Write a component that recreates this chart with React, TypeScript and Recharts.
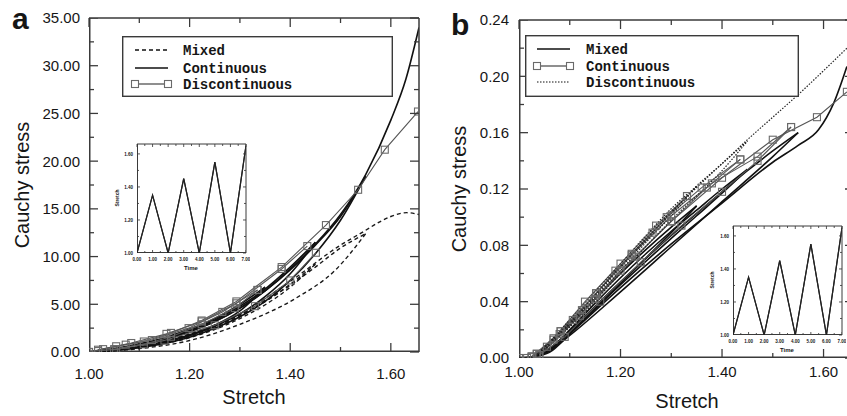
import { LineChart, Line, XAxis, YAxis } from 'recharts';

const FONT = '"Liberation Sans", Arial, sans-serif';
const MONO = '"Liberation Mono", "Courier New", monospace';
const INK = '#161616';
const FRAME = '#3a3a3a';
const SQ = '#6a6a6a';

// ---------- panel a: stretch / cauchy stress ----------
const aStretchTicks = [1.0, 1.1, 1.2, 1.3, 1.4, 1.5, 1.6];
const aStretchMajor = [1.0, 1.2, 1.4, 1.6];
const aStressTicks = [0, 2.5, 5, 7.5, 10, 12.5, 15, 17.5, 20, 22.5, 25, 27.5, 30, 32.5, 35];
const aStressMajor = [0, 5, 10, 15, 20, 25, 30, 35];

// mixed (dashed), one row per loading / unloading branch
const aMixedStretch = [
  [1.0, 1.1, 1.2, 1.3, 1.35],
  [1.0, 1.1, 1.2, 1.3, 1.35],
  [1.0, 1.1, 1.2, 1.3, 1.35, 1.4, 1.45],
  [1.0, 1.1, 1.2, 1.3, 1.4, 1.45],
  [1.0, 1.1, 1.2, 1.3, 1.4, 1.45, 1.5, 1.55],
  [1.0, 1.1, 1.2, 1.3, 1.41, 1.49, 1.55],
  [1.0, 1.1, 1.2, 1.3, 1.4, 1.5, 1.545, 1.58, 1.6, 1.632, 1.656],
];
const aMixedStress = [
  [0, 0.7, 1.9, 4.0, 5.4],
  [0, 0.5, 1.6, 3.7, 5.4],
  [0, 0.65, 1.8, 3.9, 5.3, 7.1, 9.2],
  [0, 0.45, 1.5, 3.5, 6.8, 9.2],
  [0, 0.6, 1.75, 3.8, 7.0, 8.9, 10.9, 12.4],
  [0, 0.35, 1.2, 2.9, 5.6, 8.6, 12.4],
  [0, 0.6, 1.8, 4.0, 7.4, 11.2, 12.6, 13.7, 14.2, 14.6, 14.4],
];

// continuous (solid)
const aContStretch = [
  [1.0, 1.05, 1.1, 1.15, 1.2, 1.25, 1.3, 1.35],
  [1.0, 1.05, 1.1, 1.15, 1.2, 1.25, 1.3, 1.35],
  [1.0, 1.05, 1.1, 1.15, 1.2, 1.25, 1.3, 1.35, 1.4, 1.45],
  [1.0, 1.05, 1.1, 1.15, 1.2, 1.25, 1.3, 1.35, 1.4, 1.45],
  [1.0, 1.05, 1.1, 1.15, 1.2, 1.25, 1.3, 1.35, 1.4, 1.45, 1.5, 1.55],
  [1.0, 1.05, 1.1, 1.15, 1.2, 1.25, 1.3, 1.35, 1.4, 1.45, 1.5, 1.55],
  [1.0, 1.05, 1.1, 1.15, 1.2, 1.25, 1.3, 1.35, 1.4, 1.45, 1.5, 1.55, 1.6, 1.63, 1.656],
];
const aContStress = [
  [0, 0.35, 0.85, 1.5, 2.4, 3.5, 5.0, 6.8],
  [0, 0.2, 0.55, 1.1, 1.8, 2.8, 4.3, 6.8],
  [0, 0.3, 0.78, 1.4, 2.25, 3.35, 4.8, 6.6, 8.9, 11.5],
  [0, 0.17, 0.5, 1.0, 1.7, 2.7, 4.0, 5.8, 8.2, 11.5],
  [0, 0.28, 0.74, 1.35, 2.15, 3.2, 4.6, 6.4, 8.6, 11.2, 14.2, 18.4],
  [0, 0.15, 0.45, 0.9, 1.55, 2.5, 3.7, 5.3, 7.5, 10.3, 13.8, 18.4],
  [0, 0.28, 0.74, 1.35, 2.15, 3.2, 4.6, 6.4, 8.7, 11.3, 14.4, 18.6, 24.3, 28.6, 34.0],
];

// discontinuous (line with square markers)
const aDiscStretch = [
  [1.0, 1.028, 1.073, 1.125, 1.198, 1.265, 1.335],
  [1.018, 1.054, 1.109, 1.163, 1.224, 1.29, 1.335],
  [1.018, 1.084, 1.154, 1.224, 1.293, 1.383, 1.434],
  [1.0, 1.05, 1.15, 1.25, 1.33, 1.4, 1.451],
  [1.0, 1.054, 1.109, 1.163, 1.224, 1.293, 1.383, 1.471, 1.535, 1.588, 1.654],
];
const aDiscStress = [
  [0, 0.3, 0.77, 1.25, 2.5, 4.2, 6.5],
  [0.1, 0.3, 0.8, 1.6, 2.9, 4.6, 6.5],
  [0.24, 0.94, 1.9, 3.2, 5.1, 8.7, 11.1],
  [0, 0.3, 1.2, 2.8, 4.8, 7.5, 10.4],
  [0, 0.6, 1.1, 2.0, 3.3, 5.3, 8.9, 13.3, 17.0, 21.2, 25.2],
];

// ---------- panel b ----------
const bStretchTicks = [1.0, 1.1, 1.2, 1.3, 1.4, 1.5, 1.6];
const bStretchMajor = [1.0, 1.2, 1.4, 1.6];
const bStressTicks = [0, 0.02, 0.04, 0.06, 0.08, 0.1, 0.12, 0.14, 0.16, 0.18, 0.2, 0.22, 0.24];
const bStressMajor = [0, 0.04, 0.08, 0.12, 0.16, 0.2, 0.24];

// mixed (solid)
const bMixedStretch = [
  [1.0, 1.03, 1.05, 1.1, 1.15, 1.2, 1.25, 1.3, 1.35],
  [1.03, 1.06, 1.1, 1.15, 1.2, 1.25, 1.3, 1.35],
  [1.03, 1.06, 1.1, 1.15, 1.2, 1.25, 1.3, 1.35, 1.4, 1.45],
  [1.03, 1.06, 1.1, 1.2, 1.3, 1.35, 1.4, 1.45],
  [1.03, 1.06, 1.1, 1.2, 1.3, 1.4, 1.45, 1.5, 1.55],
  [1.03, 1.06, 1.1, 1.2, 1.3, 1.4, 1.5, 1.55],
  [1.03, 1.06, 1.1, 1.2, 1.3, 1.4, 1.5, 1.55, 1.59, 1.62, 1.646],
];
const bMixedStress = [
  [0, 0.001, 0.006, 0.023, 0.042, 0.06, 0.077, 0.093, 0.108],
  [0.001, 0.007, 0.019, 0.036, 0.053, 0.071, 0.089, 0.108],
  [0.001, 0.006, 0.02, 0.039, 0.057, 0.074, 0.09, 0.105, 0.12, 0.134],
  [0.001, 0.006, 0.018, 0.052, 0.085, 0.101, 0.117, 0.134],
  [0.001, 0.005, 0.019, 0.054, 0.087, 0.118, 0.133, 0.147, 0.16],
  [0.001, 0.005, 0.016, 0.047, 0.079, 0.111, 0.143, 0.16],
  [0.001, 0.004, 0.017, 0.05, 0.081, 0.11, 0.139, 0.151, 0.162, 0.181, 0.207],
];

// continuous (line with square markers)
const bContStretch = [
  [1.0, 1.016, 1.025, 1.055, 1.082, 1.124, 1.19, 1.263, 1.331],
  [1.025, 1.068, 1.13, 1.2, 1.27, 1.331],
  [1.025, 1.068, 1.106, 1.152, 1.222, 1.291, 1.36, 1.436],
  [1.035, 1.08, 1.15, 1.23, 1.3, 1.37, 1.436],
  [1.035, 1.082, 1.152, 1.222, 1.3, 1.38, 1.47, 1.536],
  [1.04, 1.09, 1.16, 1.24, 1.32, 1.4, 1.47, 1.536],
  [1.04, 1.12, 1.2, 1.3, 1.4, 1.5, 1.587, 1.646],
];
const bContStress = [
  [0, 0, 0.001, 0.008, 0.019, 0.034, 0.062, 0.089, 0.115],
  [0.001, 0.014, 0.04, 0.067, 0.094, 0.115],
  [0.001, 0.013, 0.027, 0.046, 0.074, 0.1, 0.121, 0.141],
  [0.003, 0.017, 0.042, 0.072, 0.097, 0.121, 0.141],
  [0.003, 0.019, 0.046, 0.073, 0.101, 0.124, 0.143, 0.164],
  [0.002, 0.015, 0.04, 0.068, 0.094, 0.118, 0.14, 0.164],
  [0.002, 0.03, 0.062, 0.097, 0.128, 0.155, 0.171, 0.189],
];

// discontinuous (dotted)
const bDiscStretch = [
  [1.0, 1.03, 1.05, 1.1, 1.15, 1.2, 1.25, 1.3, 1.35],
  [1.03, 1.05, 1.1, 1.15, 1.2, 1.25, 1.3, 1.35],
  [1.03, 1.1, 1.2, 1.3, 1.35, 1.4, 1.45],
  [1.03, 1.05, 1.1, 1.2, 1.3, 1.4, 1.45],
  [1.03, 1.1, 1.2, 1.3, 1.35, 1.4, 1.45, 1.5, 1.55, 1.6, 1.646],
];
const bDiscStress = [
  [0, 0.001, 0.008, 0.027, 0.047, 0.067, 0.087, 0.106, 0.122],
  [0.001, 0.006, 0.024, 0.043, 0.062, 0.082, 0.101, 0.122],
  [0.001, 0.025, 0.065, 0.104, 0.121, 0.138, 0.154],
  [0.001, 0.006, 0.022, 0.06, 0.098, 0.133, 0.154],
  [0.001, 0.024, 0.064, 0.103, 0.122, 0.138, 0.155, 0.171, 0.187, 0.204, 0.22],
];

// ---------- insets: prescribed stretch history ----------
const insetTime = [0, 1, 2, 3, 4, 5, 6, 7];
const insetStretch = [1.0, 1.35, 1.0, 1.45, 1.0, 1.55, 1.0, 1.65];
const insetTimeTicks = [0, 0.5, 1, 1.5, 2, 2.5, 3, 3.5, 4, 4.5, 5, 5.5, 6, 6.5, 7];
const insetTimeMajor = [0, 1, 2, 3, 4, 5, 6, 7];
const insetStretchTicks = [1.0, 1.1, 1.2, 1.3, 1.4, 1.5, 1.6];
const insetStretchMajor = [1.0, 1.2, 1.4, 1.6];

const legendNamesA = ['Mixed', 'Continuous', 'Discontinuous'];
const legendNamesB = ['Mixed', 'Continuous', 'Discontinuous'];

type Pt = { s: number; v: number };
const zip = (xs: number[][], ys: number[][]): Pt[][] =>
  xs.map((row, i) => row.map((s, j) => ({ s, v: ys[i][j] })));

interface Group {
  branches: Pt[][];
  stroke: string;
  width: number;
  dash?: string;
  squares?: boolean;
  curve: 'monotone' | 'linear';
}

const isMajor = (majors: number[], v: number) => majors.some((m) => Math.abs(m - v) < 1e-6);

type Side = 'bottom' | 'top' | 'left' | 'right';

// top / right axes: inward tick marks
const markTick = (side: Side, majors: number[], big: number, small: number, width: number) => (p: any) => {
  const v: number = p.payload.value;
  const len = isMajor(majors, v) ? big : small;
  const x = Number(p.x);
  const y = Number(p.y);
  const l = side === 'top' ? [x, y, x, y + len] : [x, y, x - len, y];
  return <line x1={l[0]} y1={l[1]} x2={l[2]} y2={l[3]} stroke={FRAME} strokeWidth={width} />;
};

// bottom / left axes: labels for the major ticks
const labelTick = (side: Side, majors: number[], gap: number, size: number, weight: number) => (p: any) => {
  const v: number = p.payload.value;
  if (!isMajor(majors, v)) return <g />;
  const x = Number(p.x);
  const y = Number(p.y);
  return side === 'bottom' ? (
    <text x={x} y={y + gap} textAnchor="middle" fontSize={size} fontWeight={weight} fontFamily={FONT} fill={INK}>
      {v.toFixed(2)}
    </text>
  ) : (
    <text x={x - gap} y={y + size * 0.36} textAnchor="end" fontSize={size} fontWeight={weight} fontFamily={FONT} fill={INK}>
      {v.toFixed(2)}
    </text>
  );
};

const squareDot = (p: any) => (
  <rect key={`sq-${p.index}-${p.cx}`} x={p.cx - 3.5} y={p.cy - 3.5} width={7} height={7} fill="none" stroke={SQ} strokeWidth={1.1} />
);

interface PanelProps {
  width: number;
  height: number;
  margin: { top: number; right: number; left: number; bottom: number };
  plotW: number;
  plotH: number;
  yAxisWidth: number;
  xAxisHeight: number;
  xDomain: [number, number];
  yDomain: [number, number];
  xTicks: number[];
  xMajor: number[];
  yTicks: number[];
  yMajor: number[];
  tickFont: number;
  tickWeight: number;
  xGap: number;
  yGap: number;
  big: number;
  small: number;
  frame: number;
  groups: Group[];
}

function Panel(p: PanelProps) {
  const tw = p.frame * 0.85;
  const frameLine = { stroke: FRAME, strokeWidth: p.frame };
  const common = { type: 'number' as const, allowDataOverflow: true, interval: 0 as const, tickSize: 0, tickMargin: 0, tickLine: false };
  const [x0, x1] = p.xDomain;
  const [y0, y1] = p.yDomain;
  // pixel lengths turned into data units for the bottom / left frame and its inward ticks
  const dy = (y1 - y0) / p.plotH;
  const dx = (x1 - x0) / p.plotW;
  const tickLen = (majors: number[], v: number) => (isMajor(majors, v) ? p.big : p.small);
  const edges: Pt[][] = [
    [{ s: x0, v: y0 }, { s: x1, v: y0 }],
    [{ s: x0, v: y0 }, { s: x0, v: y1 }],
  ];
  const xMarks: Pt[][] = p.xTicks.map((t) => [{ s: t, v: y0 }, { s: t, v: y0 + tickLen(p.xMajor, t) * dy }]);
  const yMarks: Pt[][] = p.yTicks.map((t) => [{ s: x0, v: t }, { s: x0 + tickLen(p.yMajor, t) * dx, v: t }]);
  return (
    <LineChart width={p.width} height={p.height} margin={p.margin}>
      <XAxis {...common} xAxisId="b" dataKey="s" domain={p.xDomain} ticks={p.xTicks} height={p.xAxisHeight} axisLine={false} tick={labelTick('bottom', p.xMajor, p.xGap, p.tickFont, p.tickWeight)} />
      <XAxis {...common} xAxisId="t" dataKey="s" orientation="top" domain={p.xDomain} ticks={p.xTicks} height={1} axisLine={frameLine} stroke={FRAME} tick={markTick('top', p.xMajor, p.big, p.small, tw)} />
      <YAxis {...common} yAxisId="l" domain={p.yDomain} ticks={p.yTicks} width={p.yAxisWidth} axisLine={false} tick={labelTick('left', p.yMajor, p.yGap, p.tickFont, p.tickWeight)} />
      <YAxis {...common} yAxisId="r" orientation="right" domain={p.yDomain} ticks={p.yTicks} width={1} axisLine={frameLine} stroke={FRAME} tick={markTick('right', p.yMajor, p.big, p.small, tw)} />
      {edges.map((pts, i) => (
        <Line key={`edge${i}`} xAxisId="b" yAxisId="l" data={pts} dataKey="v" type="linear" stroke={FRAME} strokeWidth={p.frame * 2} dot={false} activeDot={false} isAnimationActive={false} />
      ))}
      {[...xMarks, ...yMarks].map((pts, i) => (
        <Line key={`mark${i}`} xAxisId="b" yAxisId="l" data={pts} dataKey="v" type="linear" stroke={FRAME} strokeWidth={tw} dot={false} activeDot={false} isAnimationActive={false} />
      ))}
      {p.groups.flatMap((g, gi) =>
        g.branches.map((pts, bi) => {
          // first branch of each group is scaled through the top/right axes (same domains)
          const alt = bi === 0;
          return (
            <Line
              key={`g${gi}-${bi}`}
              xAxisId={alt ? 't' : 'b'}
              yAxisId={alt ? 'r' : 'l'}
              data={pts}
              dataKey="v"
              type={g.curve}
              stroke={g.stroke}
              strokeWidth={g.width}
              strokeDasharray={g.dash}
              dot={g.squares ? squareDot : false}
              activeDot={false}
              isAnimationActive={false}
            />
          );
        })
      )}
    </LineChart>
  );
}

function Inset() {
  const pts = insetTime.map((s, i) => ({ s, v: insetStretch[i] }));
  return (
    <Panel
      width={145}
      height={131}
      margin={{ top: 3, right: 3, left: 0, bottom: 0 }}
      plotW={109}
      plotH={109}
      yAxisWidth={32}
      xAxisHeight={18}
      xDomain={[0, 7]}
      yDomain={[1.0, 1.66]}
      xTicks={insetTimeTicks}
      xMajor={insetTimeMajor}
      yTicks={insetStretchTicks}
      yMajor={insetStretchMajor}
      tickFont={4.5}
      tickWeight={700}
      xGap={8}
      yGap={4}
      big={3}
      small={2}
      frame={1}
      groups={[{ branches: [pts, pts], stroke: '#222', width: 1.2, curve: 'linear' }]}
    />
  );
}

type Kind = 'dash' | 'solid' | 'square' | 'dot';

function LegendBox({ left, top, w, h, names, kinds, rows, sx, tx }: {
  left: number; top: number; w: number; h: number; names: string[]; kinds: Kind[]; rows: number[]; sx: [number, number]; tx: number;
}) {
  return (
    <div style={{ position: 'absolute', left, top, width: w, height: h }}>
      <svg width={w} height={h} style={{ display: 'block' }}>
        <rect x={0.7} y={0.7} width={w - 1.4} height={h - 1.4} fill="#fff" stroke={FRAME} strokeWidth={1.4} />
        {names.map((n, i) => {
          const cy = rows[i];
          const k = kinds[i];
          return (
            <g key={n}>
              <line
                x1={sx[0]}
                x2={sx[1]}
                y1={cy}
                y2={cy}
                stroke={k === 'square' ? SQ : '#111'}
                strokeWidth={k === 'dot' ? 1.1 : k === 'square' ? 1.3 : 1.7}
                strokeDasharray={k === 'dash' ? '4 3' : k === 'dot' ? '1.5 1.5' : undefined}
              />
              {k === 'square' && (
                <>
                  <rect x={sx[0] - 3.5} y={cy - 3.5} width={7} height={7} fill="#fff" stroke={SQ} strokeWidth={1.1} />
                  <rect x={sx[1] - 3.5} y={cy - 3.5} width={7} height={7} fill="#fff" stroke={SQ} strokeWidth={1.1} />
                </>
              )}
              <text x={tx} y={cy + 4.5} fontFamily={MONO} fontWeight={700} fontSize={14} fill={INK}>
                {n}
              </text>
            </g>
          );
        })}
      </svg>
    </div>
  );
}

// axis titles as positioned text (centre x; baseline y, or centre y when vertical)
function Title({ text, x, y, size, weight, vertical }: { text: string; x: number; y: number; size: number; weight: number; vertical?: boolean }) {
  return (
    <div
      style={{
        position: 'absolute',
        left: x,
        top: vertical ? y : y - size * 0.85,
        transform: vertical ? 'translate(-50%, -50%) rotate(-90deg)' : 'translateX(-50%)',
        whiteSpace: 'nowrap',
        fontFamily: FONT,
        fontSize: size,
        fontWeight: weight,
        lineHeight: `${size}px`,
        color: INK,
      }}
    >
      {text}
    </div>
  );
}

const letterStyle = {
  position: 'absolute' as const,
  fontFamily: FONT,
  fontWeight: 700,
  fontSize: 30,
  lineHeight: '30px',
  color: INK,
};

export default function App() {
  const aGroups: Group[] = [
    { branches: zip(aMixedStretch, aMixedStress), stroke: '#1a1a1a', width: 1.4, dash: '4 3', curve: 'monotone' },
    { branches: zip(aContStretch, aContStress), stroke: '#111', width: 1.6, curve: 'monotone' },
    { branches: zip(aDiscStretch, aDiscStress), stroke: '#555', width: 1.1, squares: true, curve: 'linear' },
  ];
  const bGroups: Group[] = [
    { branches: zip(bMixedStretch, bMixedStress), stroke: '#111', width: 1.6, curve: 'monotone' },
    { branches: zip(bContStretch, bContStress), stroke: '#555', width: 1.1, squares: true, curve: 'linear' },
    { branches: zip(bDiscStretch, bDiscStress), stroke: '#222', width: 1.2, dash: '1.5 1.5', curve: 'monotone' },
  ];
  return (
    <div style={{ position: 'absolute', left: 0, top: 0, width: 847, height: 416, overflow: 'hidden', background: '#fff' }}>
      <div style={{ position: 'absolute', left: 0, top: 0 }}>
        <Panel
          width={420}
          height={416}
          margin={{ top: 17, right: 0, left: 0, bottom: 0 }}
          plotW={330}
          plotH={334}
          yAxisWidth={89}
          xAxisHeight={64}
          xDomain={[1.0, 1.656]}
          yDomain={[0, 35]}
          xTicks={aStretchTicks}
          xMajor={aStretchMajor}
          yTicks={aStressTicks}
          yMajor={aStressMajor}
          tickFont={15}
          tickWeight={400}
          xGap={27}
          yGap={9}
          big={9}
          small={5}
          frame={1.5}
          groups={aGroups}
        />
      </div>
      <div style={{ position: 'absolute', left: 420, top: 0 }}>
        <Panel
          width={440}
          height={416}
          margin={{ top: 19, right: 5, left: 0, bottom: 0 }}
          plotW={335}
          plotH={338}
          yAxisWidth={99}
          xAxisHeight={58}
          xDomain={[1.0, 1.66]}
          yDomain={[0, 0.24]}
          xTicks={bStretchTicks}
          xMajor={bStretchMajor}
          yTicks={bStressTicks}
          yMajor={bStressMajor}
          tickFont={15}
          tickWeight={400}
          xGap={19}
          yGap={10}
          big={9}
          small={5}
          frame={1.5}
          groups={bGroups}
        />
      </div>
      <div style={{ position: 'absolute', left: 105, top: 140 }}>
        <Inset />
      </div>
      <div style={{ position: 'absolute', left: 701, top: 222 }}>
        <Inset />
      </div>
      <Title text="Stretch" x={254} y={404} size={20} weight={400} />
      <Title text="Cauchy stress" x={22} y={185} size={20} weight={400} vertical />
      <Title text="Stretch" x={687} y={408} size={20} weight={400} />
      <Title text="Cauchy stress" x={459} y={189} size={20} weight={400} vertical />
      <Title text="Time" x={191} y={270} size={6} weight={700} />
      <Title text="Stretch" x={117} y={198} size={5} weight={700} vertical />
      <Title text="Time" x={787} y={352} size={6} weight={700} />
      <Title text="Stretch" x={712} y={280} size={5} weight={700} vertical />
      <LegendBox left={122} top={36} w={271} h={61} names={legendNamesA} kinds={['dash', 'solid', 'square']} rows={[14, 32, 48]} sx={[13, 46]} tx={61} />
      <LegendBox left={525} top={35} w={274} h={62} names={legendNamesB} kinds={['solid', 'square', 'dot']} rows={[14, 31, 47]} sx={[12, 45]} tx={61} />
      <div style={{ ...letterStyle, left: 12, top: 4 }}>a</div>
      <div style={{ ...letterStyle, left: 451, top: 10 }}>b</div>
    </div>
  );
}
